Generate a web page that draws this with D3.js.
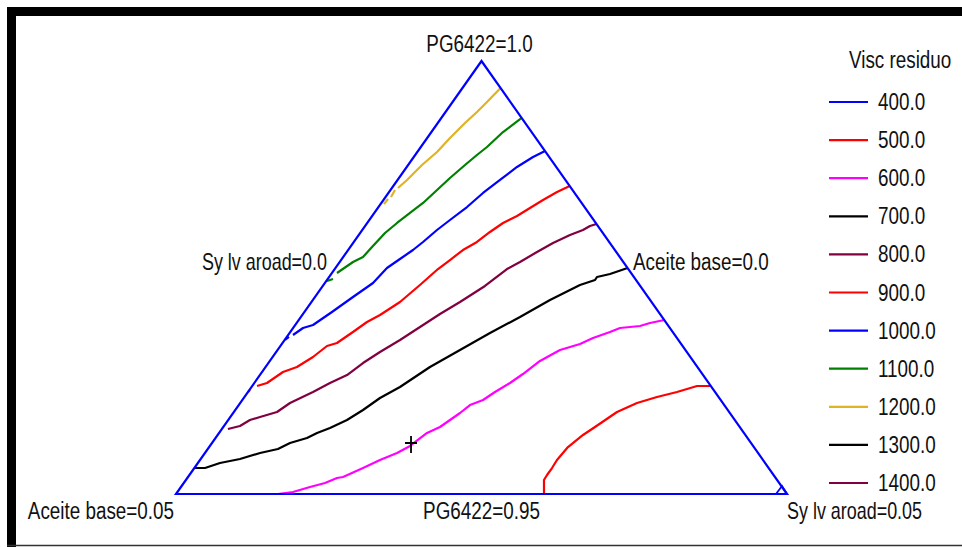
<!DOCTYPE html>
<html>
<head>
<meta charset="utf-8">
<script src="https://cdn.jsdelivr.net/npm/d3@7"></script>
<style>
  html, body { margin: 0; padding: 0; background: #fff; }
  svg { display: block; }
  text { font-family: "Liberation Sans", Arial, sans-serif; fill: #111; }
</style>
</head>
<body>
<svg id="chart" width="962" height="547"></svg>
<script>
// Mixture design: PG6422 0.95–1.0, Aceite base 0–0.05, Sylvaroad 0–0.05.
// Points are stored as L-pseudo components [sylvaroad, pg6422], each 0..1;
// aceite base is the remainder (1 - sylvaroad - pg6422).

const legendTitle = "Visc residuo";
const legendLevels = [400, 500, 600, 700, 800, 900, 1000, 1100, 1200, 1300, 1400];
const legendColors = ["#0000ff", "#ff0000", "#ff00ff", "#000000", "#800040", "#ff0000",
                      "#0000ff", "#008000", "#e0b224", "#000000", "#800040"];

const vertexLabels = ["PG6422=1.0", "Sy lv aroad=0.0", "Aceite base=0.0",
                      "Aceite base=0.05", "PG6422=0.95", "Sy lv aroad=0.05"];

// Contour lines of residual viscosity (each level may be split into pieces)
const contour500 = [[
  [0.6023, 0.0000], [0.5861, 0.0323], [0.5853, 0.0439], [0.5854, 0.0600], [0.5843, 0.0785],
  [0.5873, 0.1085], [0.5980, 0.1363], [0.6084, 0.1547], [0.6271, 0.1894], [0.6494, 0.2102],
  [0.6752, 0.2240], [0.7022, 0.2356], [0.7280, 0.2494], [0.7506, 0.2494]
]];
const contour600 = [[
  [0.1669, 0.0000], [0.1892, 0.0046], [0.2112, 0.0162], [0.2312, 0.0254], [0.2450, 0.0370],
  [0.2537, 0.0393], [0.2761, 0.0600], [0.2946, 0.0785], [0.3144, 0.0947], [0.3276, 0.1109],
  [0.3404, 0.1409], [0.3547, 0.1547], [0.3713, 0.1871], [0.3784, 0.2055], [0.3940, 0.2171],
  [0.4043, 0.2356], [0.4184, 0.2564], [0.4293, 0.2771], [0.4421, 0.3072], [0.4622, 0.3326],
  [0.4880, 0.3464], [0.5024, 0.3603], [0.5232, 0.3741], [0.5350, 0.3834], [0.5654, 0.3880],
  [0.5783, 0.3949], [0.5982, 0.4018]
]];
const contour700 = [[
  [0.0000, 0.0600], [0.0175, 0.0600], [0.0362, 0.0716], [0.0643, 0.0808], [0.0902, 0.0947],
  [0.1149, 0.1039], [0.1277, 0.1178], [0.1497, 0.1293], [0.1604, 0.1409], [0.1758, 0.1524],
  [0.1944, 0.1709], [0.2091, 0.1940], [0.2230, 0.2217], [0.2430, 0.2471], [0.2690, 0.2933],
  [0.2985, 0.3326], [0.3280, 0.3718], [0.3586, 0.4088], [0.3881, 0.4480], [0.4198, 0.4827],
  [0.4387, 0.4942], [0.4384, 0.5012], [0.4563, 0.5081], [0.4781, 0.5219]
]];
const contour800 = [[
  [0.0100, 0.1501], [0.0262, 0.1570], [0.0356, 0.1709], [0.0486, 0.1778], [0.0706, 0.1894],
  [0.0815, 0.2102], [0.1064, 0.2356], [0.1238, 0.2564], [0.1425, 0.2748], [0.1548, 0.3025],
  [0.1699, 0.3279], [0.1888, 0.3557], [0.2065, 0.3857], [0.2242, 0.4157], [0.2431, 0.4434],
  [0.2655, 0.4804], [0.2819, 0.5196], [0.2951, 0.5358], [0.3114, 0.5589], [0.3272, 0.5797],
  [0.3457, 0.5982], [0.3612, 0.6097], [0.3681, 0.6189], [0.3764, 0.6236]
]];
const contour900 = [
  [[0.0000, 0.2356], [0.0010, 0.2402]],
  [[0.0079, 0.2494], [0.0207, 0.2564], [0.0342, 0.2818], [0.0513, 0.2933], [0.0660, 0.3164],
   [0.0762, 0.3418], [0.0891, 0.3487], [0.1026, 0.3741], [0.1140, 0.3972], [0.1272, 0.4134],
   [0.1449, 0.4434], [0.1579, 0.4827], [0.1690, 0.5196], [0.1782, 0.5404], [0.1879, 0.5635],
   [0.2016, 0.5820], [0.2113, 0.6051], [0.2223, 0.6259], [0.2371, 0.6420], [0.2491, 0.6605],
   [0.2612, 0.6790], [0.2749, 0.6975], [0.2887, 0.7113]]
];
const contour1000 = [
  [[0.0006, 0.3557], [0.0036, 0.3626]],
  [[0.0079, 0.3672], [0.0162, 0.3834], [0.0291, 0.3903], [0.0451, 0.4203], [0.0622, 0.4550],
   [0.0788, 0.4873], [0.0843, 0.5219], [0.0952, 0.5427], [0.1061, 0.5635], [0.1133, 0.5820],
   [0.1223, 0.6097], [0.1320, 0.6328], [0.1449, 0.6628], [0.1549, 0.6952], [0.1677, 0.7252],
   [0.1805, 0.7552], [0.1952, 0.7783], [0.2079, 0.7921]]
];
const contour1100 = [
  [[0.0011, 0.4919], [0.0087, 0.4965]],
  [[0.0083, 0.5104], [0.0218, 0.5358], [0.0324, 0.5473], [0.0356, 0.5704], [0.0407, 0.6028],
   [0.0488, 0.6259], [0.0585, 0.6490], [0.0683, 0.6721], [0.0762, 0.7021], [0.0835, 0.7298],
   [0.0931, 0.7598], [0.1011, 0.7829], [0.1083, 0.8014], [0.1172, 0.8360], [0.1316, 0.8684]]
];
const contour1200 = [
  [[0.0055, 0.6697], [0.0064, 0.6813]],
  [[0.0089, 0.6859], [0.0074, 0.7021]],
  [[0.0100, 0.7067], [0.0155, 0.7252], [0.0227, 0.7598], [0.0323, 0.7898], [0.0373, 0.8222],
   [0.0446, 0.8568], [0.0515, 0.8822], [0.0563, 0.9053], [0.0624, 0.9376]]
];

const contours = [
  { level: 500,  color: "#ff0000", pieces: contour500 },
  { level: 600,  color: "#ff00ff", pieces: contour600 },
  { level: 700,  color: "#000000", pieces: contour700 },
  { level: 800,  color: "#800040", pieces: contour800 },
  { level: 900,  color: "#ff0000", pieces: contour900 },
  { level: 1000, color: "#0000ff", pieces: contour1000 },
  { level: 1100, color: "#008000", pieces: contour1100 },
  { level: 1200, color: "#e0b224", pieces: contour1200 }
];

// Optimum point (cross) and design-point marker at the Sylvaroad vertex
const optimumPoint = [0.3269, 0.1155];
const designPoints = [[1.0, 0.0]];

const svg = d3.select("#chart");
const FONT = 23, SX = 0.82;

// Window frame
svg.append("rect").attr("x", 7).attr("y", 7).attr("width", 955).attr("height", 9).attr("fill", "#000");
svg.append("rect").attr("x", 7).attr("y", 7).attr("width", 9).attr("height", 540).attr("fill", "#000");
svg.append("line").attr("x1", 7).attr("x2", 962).attr("y1", 545.5).attr("y2", 545.5)
  .attr("stroke", "#333").attr("stroke-width", 1.5);

// Ternary mapping: horizontal = sylvaroad + pg/2, vertical = pg
const xScale = d3.scaleLinear().domain([0, 1]).range([176, 787]);
const yScale = d3.scaleLinear().domain([0, 1]).range([494, 61]);
const pos = d => [xScale(d[0] + d[1] / 2), yScale(d[1])];

const line = d3.line().x(d => pos(d)[0]).y(d => pos(d)[1]);

// Contours
const g = svg.append("g");
contours.forEach(c => {
  g.selectAll(null).data(c.pieces).enter().append("path")
    .attr("d", line)
    .attr("fill", "none")
    .attr("stroke", c.color)
    .attr("stroke-width", 2.2)
    .attr("stroke-linejoin", "round");
});

// Triangle outline
const corners = [[0, 0], [1, 0], [0, 1]];
svg.append("path")
  .attr("d", line(corners) + "Z")
  .attr("fill", "none")
  .attr("stroke", "#0000ff")
  .attr("stroke-width", 2.2)
  .attr("stroke-linejoin", "miter");

// Design point marker: small triangle tucked into the vertex
svg.selectAll(null).data(designPoints).enter().append("path")
  .attr("transform", d => `translate(${pos(d)[0]},${pos(d)[1]})`)
  .attr("d", "M-11,0 L-5,-8 L0,0")
  .attr("fill", "none").attr("stroke", "#0000ff").attr("stroke-width", 1.8);

// Optimum cross
const op = pos(optimumPoint);
svg.append("path")
  .attr("d", `M${op[0] - 6},${op[1] - 1}H${op[0] + 6}M${op[0]},${op[1] - 8}V${op[1] + 9}`)
  .attr("stroke", "#000").attr("stroke-width", 1.8).attr("fill", "none");

// Vertex / edge labels
function label(txt, x, y, anchor, sx) {
  svg.append("text")
    .attr("transform", `translate(${x},${y}) scale(${sx || SX},1)`)
    .attr("text-anchor", anchor)
    .attr("font-size", FONT)
    .text(txt);
}
const apex = pos([0, 1]), bl = pos([0, 0]), br = pos([1, 0]);
label(vertexLabels[0], apex[0] - 2, 52, "middle");
label(vertexLabels[1], 327, 270, "end", 0.78);
label(vertexLabels[2], 633, 270, "start");
label(vertexLabels[3], bl[0] - 2, 519, "end");
label(vertexLabels[4], (bl[0] + br[0]) / 2, 519, "middle");
label(vertexLabels[5], br[0], 519, "start", 0.78);

// Legend
label(legendTitle, 849, 68, "start");
const ly = d3.scalePoint().domain(legendLevels).range([102, 483]);
const items = svg.append("g").selectAll("g").data(legendLevels).enter().append("g");
items.append("line")
  .attr("x1", 829).attr("x2", 868)
  .attr("y1", d => ly(d)).attr("y2", d => ly(d))
  .attr("stroke", (d, i) => legendColors[i]).attr("stroke-width", 2.2);
items.append("text")
  .attr("transform", d => `translate(878,${ly(d) + 8}) scale(${SX},1)`)
  .attr("font-size", FONT)
  .text(d => d3.format(".1f")(d));
</script>
</body>
</html>
